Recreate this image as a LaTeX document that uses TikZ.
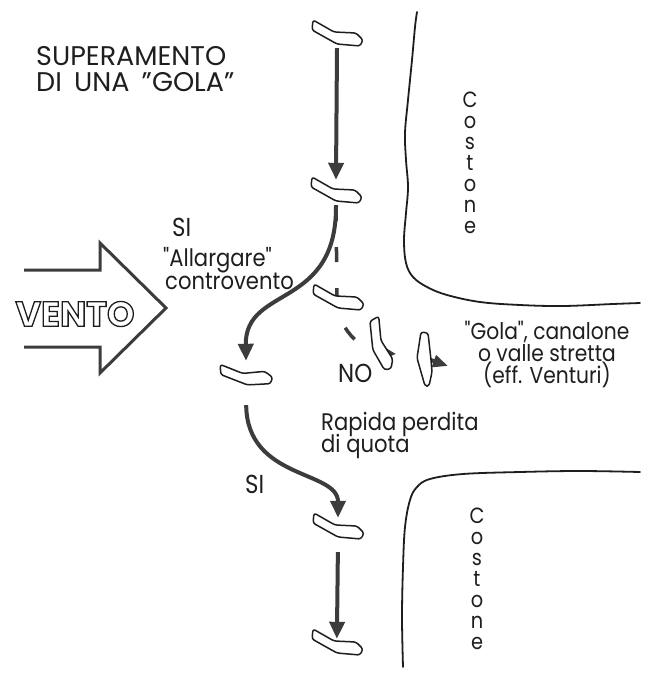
\documentclass[tikz,border=0pt]{standalone}
\usepackage{fontspec}
\setmainfont{Poppins}
\newfontfamily\nar{Poppins}[FakeStretch=0.88]
\usetikzlibrary{arrows.meta}
\definecolor{ink}{HTML}{1E1E1E}
\definecolor{arr}{HTML}{3C3C3C}
\tikzset{
  glnode/.style={minimum width=52pt, minimum height=28pt, inner sep=0pt, draw=none},
  gbody/.style={draw=ink, line width=1.5pt, fill=white, rounded corners=2.5pt, line join=round},
  glider/.pic={\path[gbody] (-24,-14) -- (-3,-2) -- (19,-1) -- (26,6) -- (23,12) -- (0,10) -- (-25,-4) -- cycle;},
  fat/.style={draw=arr, line width=4pt, -{Triangle[width=15pt,length=17pt,fill=arr]}},
  ridge/.style={draw=ink, line width=1.8pt, line cap=round},
  body/.style={font=\nar\fontsize{24}{21}\selectfont, text=ink, inner sep=0pt},
  gola/.style={font=\nar\fontsize{23}{21}\selectfont, text=ink, inner sep=0pt},
  cost/.style={font=\nar\fontsize{22}{21}\selectfont, text=ink, inner sep=0pt},
  big/.style={font=\nar\fontsize{26}{26}\selectfont, text=ink, inner sep=0pt},
  ttl/.style={font=\fontsize{27}{26}\selectfont, text=ink, inner sep=0pt},
  ventof/.style={font=\bfseries\fontsize{35}{35}\selectfont, inner sep=0pt},
}
\begin{document}
\begin{tikzpicture}[x=1pt,y=-1pt]
\useasboundingbox[fill=white] (0,0) rectangle (658,676);

% title
\node[ttl, anchor=base west] (t1) at (36,66) {SUPERAMENTO};
\node[ttl, anchor=base west] (t2) at (36,92) {DI\hspace{5pt} UNA\hspace{5pt} "GOLA"};

% wind arrow
\draw[draw=arr, line width=3pt, line join=miter] (24,270) -- (100,270) -- (100,243) -- (166,308) -- (100,373) -- (100,347) -- (24,347);
\node[ventof, text=ink] (vento) at (75,314) {\special{pdf:literal direct 1 Tr 1.3 w}VENTO\special{pdf:literal direct 0 Tr}};

% ridges
\draw[ridge] plot[smooth, tension=0.6] coordinates {(417,12) (415,27) (412,60) (408,100) (405,133) (406,160) (408,187) (406,213) (404,240) (406,263) (413,277) (427,287) (447,295) (480,302) (520,305) (563,306) (613,304) (640,303)};
\draw[ridge] plot[smooth, tension=0.6] coordinates {(640,472) (580,471) (520,472) (463,474) (430,479) (417,487) (410,500) (405,527) (403,567) (402,617) (403,667)};

\node[cost, align=center] (cos1) at (470,163) {C\\o\\s\\t\\o\\n\\e};
\node[cost, align=center] (cos2) at (477,579) {C\\o\\s\\t\\o\\n\\e};

% glider nodes
\node[glnode] (g1) at (337,34) {};
\node[glnode] (g2) at (336,191) {};
\node[glnode] (g3) at (338,298) {};
\node[glnode] (g4) at (246,375) {};
\node[glnode] (g5) at (338,527) {};
\node[glnode] (g6) at (337,643) {};
\node[glnode, minimum width=26pt, minimum height=52pt] (n1) at (381,344) {};
\node[glnode, minimum width=16pt, minimum height=56pt] (n2) at (425,358) {};
\coordinate (dn) at (396,354);
\coordinate (na) at (448,366);

% connectors under the gliders
\draw[draw=arr, line width=3.5pt, dash pattern=on 15pt off 26pt, dash phase=40pt, -{Triangle[width=9pt,length=10pt,fill=arr]}]
  (g2.south) -- (337,298) .. controls (337,327) and (358,351) .. (dn);
\draw[fat, -{Triangle[width=12pt,length=15pt,fill=arr]}] (n2.center) -- (na);

% gliders
\pic at (g1) {glider};
\pic at (g2) {glider};
\pic at (g3) {glider};
\pic[rotate=8] at (g4) {glider};
\pic at (g5) {glider};
\pic at (g6) {glider};
\pic[rotate=-55] at (n1) {glider};
\path[gbody] (421,332) -- (428,333) -- (431,360) -- (432,372) -- (429,386) -- (425,386) -- (417,358) -- cycle;

% main arrows
\draw[fat, shorten >=-3pt] (g1.south) -- (g2.north);
\draw[fat] (g2.south) .. controls (337,310) and (245,285) .. (g4.north);
\draw[fat, shorten <=16pt, shorten >=-5pt] (g4.south) .. controls (247,480) and (338,470) .. (g5.north);
\draw[fat, shorten <=11pt, shorten >=-10pt] (g5.south) -- (g6.north);

% labels
\node[big, anchor=base west] (si1) at (172,236) {SI};
\node[body, anchor=base west] (al1) at (163,266) {"Allargare"};
\node[body, anchor=base west] (al2) at (165,289) {controvento};
\node[big, anchor=base west] (no) at (338,382) {NO};
\node[gola, anchor=base] (go1) at (547,339) {"Gola", canalone};
\node[gola, anchor=base] (go2) at (547,361) {o valle stretta};
\node[gola, anchor=base] (go3) at (547,383) {(eff. Venturi)};
\node[body, anchor=base west] (ra1) at (321,430) {Rapida perdita};
\node[body, anchor=base west] (ra2) at (321,452) {di quota};
\node[big, anchor=base west] (si2) at (245,493) {SI};
\end{tikzpicture}
\end{document}
